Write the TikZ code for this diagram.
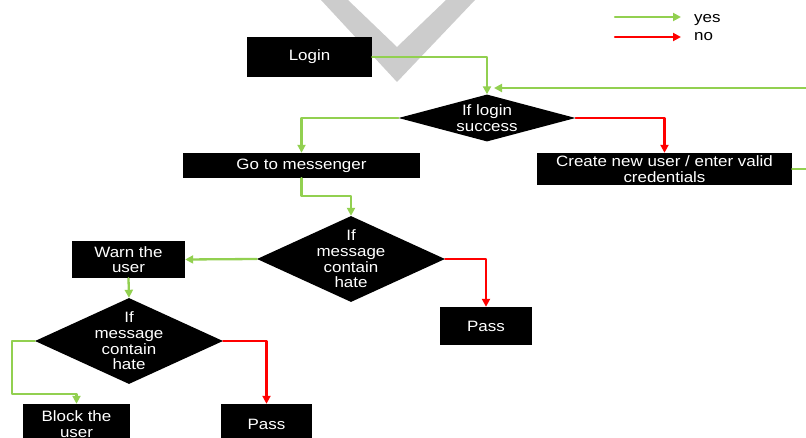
\documentclass[tikz,border=0pt]{standalone}
\usepackage{fontspec}
\setmainfont[FakeStretch=1.13]{Liberation Sans}
\usetikzlibrary{shapes.geometric,arrows.meta}
\definecolor{yesgreen}{HTML}{92D050}
\definecolor{nored}{HTML}{FF0000}
\definecolor{markgray}{HTML}{CCCCCC}
\begin{document}
\begin{tikzpicture}[x=1pt, y=-1pt, line cap=round, line join=round, font=\fontsize{15}{15.6}\selectfont, >={Triangle[length=8pt,width=8pt]}]
	\tikzset{box/.style={fill=black, text=white, inner sep=0pt, align=center},
		decision/.style={diamond, fill=black, inner sep=0pt},
		dtext/.style={text=white, align=center, inner sep=0pt},
		yes/.style={->, draw=yesgreen, line width=2.3pt},
		no/.style={->, draw=nored, line width=2.3pt}}
	\useasboundingbox (0,0) rectangle (806,438);
	\fill[markgray] (321,0)--(397,82)--(475,0)--(446,0)--(397,47)--(348,0)--cycle;
	\node[box, minimum width=125pt, minimum height=40pt] (login) at (309.5,57) {Login};
	\node[decision, minimum width=177pt, minimum height=47pt] (q1) at (487,118) {};
	\node[dtext] (q1t) at (q1) {If login\\success};
	\node[box, minimum width=237pt, minimum height=25pt] (messenger) at (301.5,165.5) {Go to messenger};
	\node[box, minimum width=255pt, minimum height=32pt] (create) at (664.5,169) {Create new user / enter valid\\credentials};
	\node[decision, minimum width=188pt, minimum height=86pt] (q2) at (351,259) {};
	\node[dtext] (q2t) at (q2) {If\\message\\contain\\hate};
	\node[box, minimum width=92pt, minimum height=38pt] (pass1) at (486,326) {Pass};
	\node[box, minimum width=113pt, minimum height=37pt] (warn) at (128.5,259.5) {Warn the\\user};
	\node[decision, minimum width=188pt, minimum height=86pt] (q3) at (129,341) {};
	\node[dtext] (q3t) at (q3) {If\\message\\contain\\hate};
	\node[box, minimum width=107pt, minimum height=40pt] (block) at (76.5,424) {Block the\\user};
	\node[box, minimum width=91pt, minimum height=40pt] (pass2) at (266.5,424) {Pass};
	\coordinate (turn) at (830,88);
	\coordinate (retry) at (494,88);
	\coordinate (c3) at (12,394);
	\draw[yes] (login.east) -| (q1.north);
	\draw[yes] (create.east) -| (turn) -- (retry);
	\draw[yes] (q1.west) -| (messenger.north);
	\draw[no] (q1.east) -| (create.north);
	\draw[yes] (messenger.south) -- ++(0,18) -| (q2.north);
	\draw[yes] (q2.west) -- (warn.east);
	\draw[no] (q2.east) -| (pass1.north);
	\draw[yes] (warn.south) -- (q3.north);
	\draw[yes] (q3.west) -| (c3) -| (block.north);
	\draw[no] (q3.east) -| (pass2.north);
	\coordinate (yes0) at (615,17);
	\coordinate (yes1) at (681,17);
	\coordinate (no0) at (615,37);
	\coordinate (no1) at (681,37);
	\draw[yes] (yes0) -- (yes1);
	\draw[no] (no0) -- (no1);
	\node[anchor=west, inner sep=0pt] (yeslabel) at (694,20) {yes};
	\node[anchor=west, inner sep=0pt] (nolabel) at (694,37) {no};
\end{tikzpicture}
\end{document}
